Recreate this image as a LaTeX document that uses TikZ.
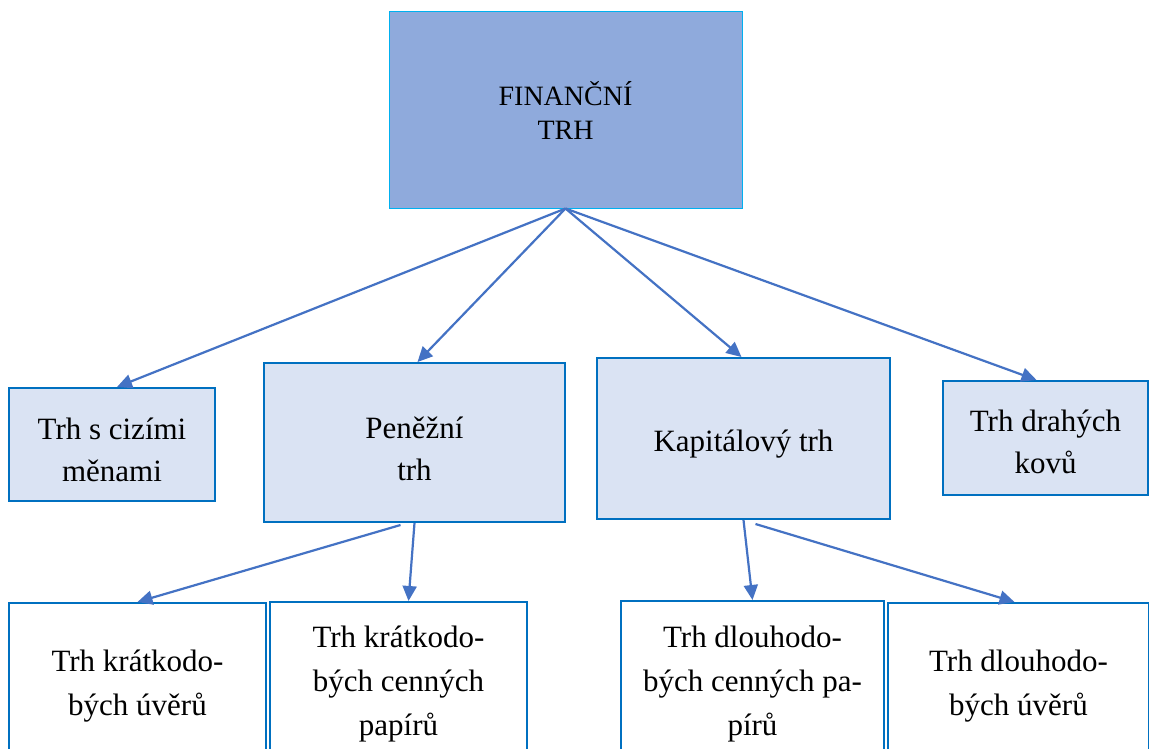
\documentclass[tikz,border=0pt]{standalone}
\usepackage{fontspec}
\setmainfont{Liberation Serif}
\usetikzlibrary{arrows.meta}
\definecolor{topfill}{RGB}{143,170,220}
\definecolor{topline}{RGB}{0,176,240}
\definecolor{boxfill}{RGB}{218,227,243}
\definecolor{boxline}{RGB}{0,112,192}
\definecolor{arrblue}{RGB}{68,114,196}
\begin{document}
\begin{tikzpicture}[x=1pt,y=-1pt,
  topbox/.style={draw=topline,line width=1pt,fill=topfill,inner sep=0pt,align=center,font=\fontsize{28}{34}\selectfont},
  midbox/.style={draw=boxline,line width=2pt,fill=boxfill,inner sep=0pt},
  midtext/.style={inner sep=0pt,align=center,font=\fontsize{31}{42}\selectfont},
  leafbox/.style={draw=boxline,line width=2pt,fill=white,inner sep=0pt,align=center,font=\fontsize{31}{44}\selectfont},
  arr/.style={draw=arrblue,line width=2.2pt,-{Triangle[length=15pt,width=14pt]}}]
\clip (0,0) rectangle (1149,749);
\fill[white] (0,0) rectangle (1149,749);
% top
\node[topbox,minimum width=353pt,minimum height=196pt] (fin) at (565.5,110) {FINANČNÍ\\TRH};
% second row
\node[midbox,minimum width=206pt,minimum height=113pt] (ciz) at (112,444.5) {};
\node[midtext] (ciz-t) at ([yshift=-5pt]ciz.center) {Trh s cizími\\měnami};
\node[midbox,minimum width=301pt,minimum height=159pt] (pen) at (414.5,442.5) {};
\node[midtext] (pen-t) at ([yshift=-6pt]pen.center) {Peněžní\\trh};
\node[midbox,minimum width=293pt,minimum height=161pt] (kap) at (743.5,438.5) {};
\node[midtext] (kap-t) at ([yshift=-6pt]kap.center) {Kapitálový trh};
\node[midbox,minimum width=205pt,minimum height=114pt] (kov) at (1045.5,438) {};
\node[midtext] (kov-t) at ([yshift=-4pt]kov.center) {Trh drahých\\kovů};
% third row
\node[leafbox,minimum width=257pt,minimum height=167pt] (kuv) at (137.5,686.5) {Trh krátkodo-\\bých úvěrů};
\node[leafbox,minimum width=257pt,minimum height=164pt] (kcp) at (398.5,684) {Trh krátkodo-\\bých cenných\\papírů};
\node[leafbox,minimum width=263pt,minimum height=166pt] (dcp) at (752.5,684) {Trh dlouhodo-\\bých cenných pa-\\pírů};
\node[leafbox,minimum width=261pt,minimum height=166pt] (duv) at (1018.5,686) {Trh dlouhodo-\\bých úvěrů};
% arrows
\draw[arr] (fin.south) -- ([xshift=5pt]ciz.north);
\draw[arr] (fin.south) -- ([xshift=3pt]pen.north);
\draw[arr] (fin.south) -- ([xshift=-2pt]kap.north);
\draw[arr] (fin.south) -- ([xshift=-9pt]kov.north);
\draw[arr] ([xshift=-14pt,yshift=-2pt]pen.south) -- (kuv.north);
\draw[arr] (pen.south) -- ([xshift=10pt]kcp.north);
\draw[arr] (kap.south) -- (dcp.north);
\draw[arr] ([xshift=12pt,yshift=-4pt]kap.south) -- ([xshift=-4pt]duv.north);
\end{tikzpicture}
\end{document}
